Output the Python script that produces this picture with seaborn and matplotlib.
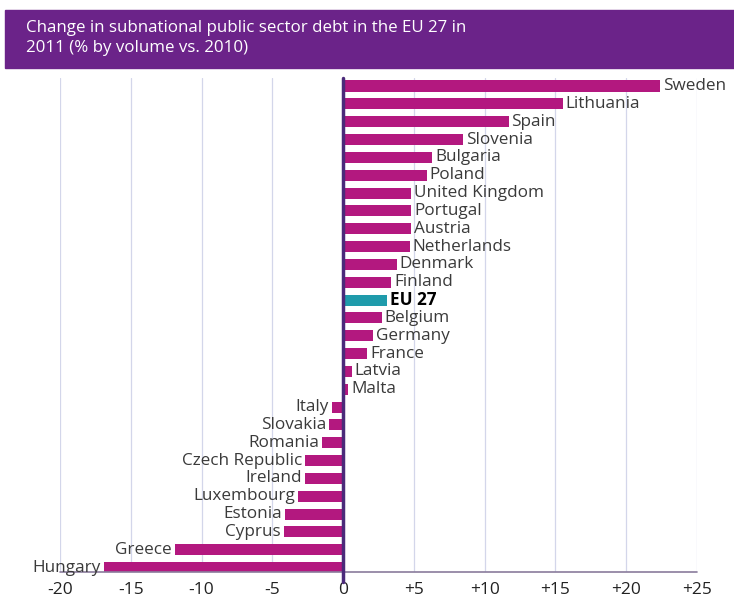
import pandas as pd
import seaborn as sns
import matplotlib.pyplot as plt
from matplotlib.patches import Rectangle

countries = ["Sweden", "Lithuania", "Spain", "Slovenia", "Bulgaria", "Poland",
             "United Kingdom", "Portugal", "Austria", "Netherlands", "Denmark",
             "Finland", "EU 27", "Belgium", "Germany", "France", "Latvia", "Malta",
             "Italy", "Slovakia", "Romania", "Czech Republic", "Ireland",
             "Luxembourg", "Estonia", "Cyprus", "Greece", "Hungary"]
changes = [22.4, 15.5, 11.7, 8.5, 6.3, 5.9, 4.8, 4.8, 4.8, 4.7, 3.8, 3.4, 3.1,
           2.75, 2.1, 1.7, 0.6, 0.35, -0.8, -1.0, -1.5, -2.7, -2.7, -3.2, -4.1,
           -4.2, -11.9, -16.9]
tick_values = [-20, -15, -10, -5, 0, 5, 10, 15, 20, 25]
tick_labels = ["-20", "-15", "-10", "-5", "0", "+5", "+10", "+15", "+20", "+25"]

df = pd.DataFrame({"country": countries, "change": changes})
df["group"] = ["eu" if c == "EU 27" else "country" for c in df["country"]]

sns.set_style("white")
plt.rcParams["font.family"] = ["Open Sans", "DejaVu Sans"]

fig = plt.figure(figsize=(7.34, 6.09), dpi=100)
ax = fig.add_axes([60 / 734, 37 / 609, 637 / 734, 494 / 609])

sns.barplot(data=df, x="change", y="country", hue="group", dodge=False,
            palette={"country": "#b3187f", "eu": "#1f9bab"}, width=0.62,
            saturation=1, linewidth=0, legend=False, ax=ax)

ax.set_xlim(-20, 25)
ax.set_ylim(27.25, -0.45)

# grid lines
for t in tick_values:
    if t != 0:
        ax.axvline(t, color="#d3d6ea", lw=0.9, zorder=0)
ax.axhline(27.25, color="#8a7c9c", lw=1.2, clip_on=False, zorder=1)
ax.axvline(0, ymin=-0.02, ymax=1, color="#4b2a7a", lw=2.5, clip_on=False, zorder=3)

for i, (name, val) in enumerate(zip(countries, changes)):
    bold = name == "EU 27"
    if val >= 0:
        ax.text(val + 0.2, i, name, ha="left", va="center", fontsize=12.3,
                color="black" if bold else "#3a3a3a",
                fontweight="bold" if bold else "normal")
    else:
        ax.text(val - 0.2, i, name, ha="right", va="center", fontsize=12.3,
                color="#3a3a3a")

ax.set_xticks(tick_values)
ax.set_xticklabels(tick_labels, fontsize=12.5, color="#222222")
ax.set_yticks([])
ax.set_xlabel("")
ax.set_ylabel("")
ax.tick_params(axis="x", length=0, pad=7)
for s in ax.spines.values():
    s.set_visible(False)

# title banner
fig.patches.append(Rectangle((5 / 734, (609 - 68) / 609), 1 - 5 / 734, 58 / 609,
                             transform=fig.transFigure, color="#6b2389", zorder=0))
fig.text(26 / 734, (609 - 38) / 609,
         "Change in subnational public sector debt in the EU 27 in\n2011 (% by volume vs. 2010)",
         ha="left", va="center", color="white", fontsize=12.2, linespacing=1.3)

plt.savefig("out.png", dpi=100)
plt.close()
